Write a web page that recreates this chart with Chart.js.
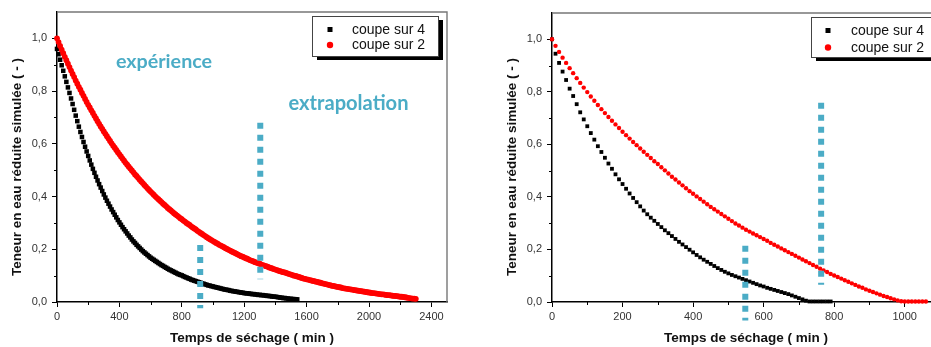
<!DOCTYPE html>
<html lang="fr">
<head>
<meta charset="UTF-8">
<title>Teneur en eau réduite simulée</title>
<script src="https://cdn.jsdelivr.net/npm/chart.js"></script>
<style>
    html, body { margin: 0; padding: 0; background: #fff; overflow: hidden; width: 931px; height: 347px; }
    canvas { position: absolute; top: 0; }
    #left { left: 0; }
    #right { left: 465px; }
</style>
</head>
<body>
<canvas id="left" width="470" height="347"></canvas>
<canvas id="right" width="500" height="347"></canvas>
<script>
// ---- data ----
const SERIES_NAMES = ['coupe sur 4', 'coupe sur 2'];

// left panel: one point every 10 min
const LEFT_STEP = 10;
const LEFT_COUPE4 = [
    0.960, 0.940, 0.919, 0.898, 0.877, 0.856, 0.835, 0.814, 0.793, 0.772,
    0.751, 0.729, 0.707, 0.686, 0.665, 0.645, 0.626, 0.607, 0.589, 0.571,
    0.554, 0.537, 0.521, 0.505, 0.490, 0.475, 0.461, 0.447, 0.434, 0.421,
    0.408, 0.396, 0.384, 0.373, 0.362, 0.351, 0.341, 0.331, 0.321, 0.311,
    0.302, 0.293, 0.284, 0.276, 0.268, 0.260, 0.252, 0.245, 0.237, 0.230,
    0.224, 0.217, 0.211, 0.205, 0.199, 0.193, 0.188, 0.183, 0.178, 0.173,
    0.168, 0.164, 0.160, 0.156, 0.152, 0.148, 0.144, 0.140, 0.137, 0.133,
    0.130, 0.126, 0.123, 0.120, 0.117, 0.114, 0.111, 0.108, 0.105, 0.103,
    0.101, 0.098, 0.095, 0.093, 0.090, 0.088, 0.085, 0.083, 0.081, 0.079,
    0.077, 0.075, 0.073, 0.071, 0.069, 0.067, 0.065, 0.063, 0.062, 0.060,
    0.059, 0.057, 0.056, 0.054, 0.053, 0.051, 0.050, 0.048, 0.047, 0.046,
    0.045, 0.043, 0.042, 0.041, 0.040, 0.039, 0.038, 0.037, 0.036, 0.035,
    0.034, 0.033, 0.033, 0.032, 0.031, 0.030, 0.030, 0.029, 0.028, 0.027,
    0.027, 0.026, 0.026, 0.025, 0.024, 0.023, 0.023, 0.022, 0.021, 0.020,
    0.020, 0.019, 0.018, 0.017, 0.016, 0.015, 0.015, 0.014, 0.013, 0.012,
    0.012, 0.011, 0.011, 0.010, 0.010
];
const LEFT_COUPE2 = [
    1.000, 0.986, 0.971, 0.957, 0.944, 0.930, 0.917, 0.904, 0.891, 0.878,
    0.865, 0.853, 0.840, 0.828, 0.816, 0.805, 0.793, 0.782, 0.770, 0.759,
    0.748, 0.738, 0.727, 0.717, 0.706, 0.696, 0.686, 0.676, 0.666, 0.657,
    0.647, 0.638, 0.629, 0.620, 0.611, 0.602, 0.593, 0.585, 0.577, 0.568,
    0.560, 0.552, 0.544, 0.536, 0.528, 0.521, 0.513, 0.506, 0.499, 0.492,
    0.484, 0.478, 0.471, 0.464, 0.457, 0.451, 0.444, 0.438, 0.431, 0.425,
    0.419, 0.413, 0.407, 0.401, 0.395, 0.390, 0.384, 0.379, 0.373, 0.368,
    0.363, 0.357, 0.352, 0.347, 0.342, 0.337, 0.332, 0.328, 0.323, 0.318,
    0.314, 0.309, 0.305, 0.300, 0.296, 0.292, 0.287, 0.283, 0.279, 0.275,
    0.270, 0.266, 0.262, 0.258, 0.254, 0.250, 0.246, 0.242, 0.238, 0.235,
    0.231, 0.228, 0.224, 0.221, 0.217, 0.214, 0.211, 0.208, 0.204, 0.201,
    0.198, 0.195, 0.192, 0.189, 0.186, 0.183, 0.180, 0.177, 0.174, 0.172,
    0.169, 0.166, 0.164, 0.161, 0.158, 0.156, 0.154, 0.151, 0.149, 0.147,
    0.145, 0.142, 0.140, 0.138, 0.136, 0.134, 0.131, 0.129, 0.127, 0.125,
    0.123, 0.121, 0.119, 0.117, 0.115, 0.113, 0.112, 0.110, 0.108, 0.106,
    0.104, 0.102, 0.100, 0.099, 0.097, 0.095, 0.093, 0.091, 0.089, 0.088,
    0.086, 0.085, 0.083, 0.082, 0.080, 0.079, 0.077, 0.076, 0.074, 0.073,
    0.071, 0.070, 0.068, 0.067, 0.065, 0.064, 0.062, 0.061, 0.060, 0.058,
    0.057, 0.056, 0.055, 0.053, 0.052, 0.051, 0.050, 0.049, 0.048, 0.047,
    0.046, 0.045, 0.044, 0.043, 0.042, 0.041, 0.040, 0.039, 0.038, 0.037,
    0.036, 0.035, 0.034, 0.034, 0.033, 0.032, 0.031, 0.030, 0.029, 0.029,
    0.028, 0.027, 0.026, 0.026, 0.025, 0.024, 0.023, 0.023, 0.022, 0.021,
    0.020, 0.020, 0.019, 0.018, 0.017, 0.016, 0.015, 0.014, 0.013, 0.013,
    0.012
];
const LEFT_X_TICKS = [0, 400, 800, 1200, 1600, 2000, 2400];
const LEFT_X_MINOR = [200, 600, 1000, 1400, 1800, 2200];
const LEFT_CUT_X = [918, 1303];
const LEFT_CUT_TOP = [0.216, 0.680];
const LEFT_CUT_BOTTOM = [-0.024, 0.086];

// right panel: one point every 10 min
const RIGHT_STEP = 10;
const RIGHT_COUPE4 = [
    1.000, 0.945, 0.910, 0.877, 0.845, 0.812, 0.784, 0.753, 0.722, 0.695,
    0.669, 0.643, 0.618, 0.593, 0.571, 0.549, 0.527, 0.507, 0.486, 0.467,
    0.449, 0.431, 0.413, 0.396, 0.380, 0.364, 0.348, 0.334, 0.321, 0.309,
    0.297, 0.285, 0.273, 0.262, 0.251, 0.240, 0.229, 0.219, 0.209, 0.199,
    0.189, 0.179, 0.170, 0.161, 0.153, 0.145, 0.137, 0.129, 0.122, 0.115,
    0.109, 0.103, 0.098, 0.093, 0.088, 0.083, 0.078, 0.073, 0.068, 0.063,
    0.059, 0.054, 0.050, 0.046, 0.042, 0.038, 0.034, 0.030, 0.025, 0.020,
    0.015, 0.010, 0.005, 0.002, 0.002, 0.002, 0.002, 0.002, 0.002, 0.002
];
const RIGHT_COUPE2 = [
    1.000, 0.975, 0.952, 0.930, 0.910, 0.890, 0.871, 0.852, 0.834, 0.816,
    0.799, 0.782, 0.766, 0.750, 0.734, 0.719, 0.704, 0.690, 0.676, 0.662,
    0.648, 0.635, 0.622, 0.609, 0.597, 0.584, 0.572, 0.560, 0.548, 0.536,
    0.525, 0.513, 0.501, 0.489, 0.477, 0.466, 0.455, 0.444, 0.433, 0.422,
    0.412, 0.402, 0.392, 0.382, 0.372, 0.362, 0.353, 0.344, 0.335, 0.326,
    0.317, 0.308, 0.299, 0.291, 0.283, 0.275, 0.268, 0.261, 0.254, 0.247,
    0.240, 0.233, 0.225, 0.218, 0.211, 0.204, 0.197, 0.190, 0.183, 0.176,
    0.169, 0.162, 0.155, 0.148, 0.141, 0.134, 0.127, 0.120, 0.114, 0.107,
    0.101, 0.095, 0.089, 0.083, 0.077, 0.071, 0.065, 0.059, 0.054, 0.048,
    0.043, 0.038, 0.033, 0.028, 0.023, 0.019, 0.014, 0.010, 0.006, 0.003,
    0.002, 0.002, 0.002, 0.002, 0.002, 0.002, 0.002
];
const RIGHT_X_TICKS = [0, 200, 400, 600, 800, 1000];
const RIGHT_X_MINOR = [100, 300, 500, 700, 900];
const RIGHT_CUT_X = [548, 763];
const RIGHT_CUT_TOP = [0.214, 0.758];
const RIGHT_CUT_BOTTOM = [-0.070, 0.066];

const Y_TICKS = [0, 0.2, 0.4, 0.6, 0.8, 1.0];
const Y_MINOR = [0.1, 0.3, 0.5, 0.7, 0.9];

const X_TITLE = 'Temps de séchage ( min )';
const Y_TITLE = 'Teneur en eau réduite simulée ( - )';

// ---- styling ----
const BLUE = '#4bacc6';
const RED = '#ff0000';
const BLACK = '#000000';
const H = 347;

Chart.defaults.font.family = '"Liberation Sans", Arial, sans-serif';
Chart.defaults.color = '#333';

function toPoints(values, step) {
    return values.map((v, i) => ({ x: i * step, y: v }));
}

// grey top/right frame + short minor ticks
const framePlugin = {
    id: 'frame',
    beforeDatasetsDraw(chart) {
        const { ctx, chartArea: a, scales } = chart;
        const o = chart.options.plugins.frame;
        ctx.save();
        ctx.strokeStyle = '#777';
        ctx.lineWidth = 1.4;
        ctx.beginPath();
        ctx.moveTo(a.left, a.top);
        ctx.lineTo(a.right, a.top);
        ctx.lineTo(a.right, a.bottom);
        ctx.stroke();
        ctx.strokeStyle = '#000';
        ctx.lineWidth = 1;
        ctx.beginPath();
        o.xMinor.forEach(v => {
            const px = Math.round(scales.x.getPixelForValue(v)) + 0.5;
            ctx.moveTo(px, a.bottom);
            ctx.lineTo(px, a.bottom + 3);
        });
        o.yMinor.forEach(v => {
            const py = Math.round(scales.y.getPixelForValue(v)) + 0.5;
            ctx.moveTo(a.left, py);
            ctx.lineTo(a.left - 3, py);
        });
        ctx.stroke();
        ctx.restore();
    }
};

// legend box, axis titles and the blue notes
const decorPlugin = {
    id: 'decor',
    afterDraw(chart) {
        const { ctx, chartArea: a } = chart;
        const o = chart.options.plugins.decor;
        ctx.save();

        // legend with drop shadow
        const L = o.legend;
        ctx.fillStyle = '#000';
        ctx.fillRect(L.x + 5, L.y + 4, L.w, L.h);
        ctx.fillStyle = '#fff';
        ctx.fillRect(L.x, L.y, L.w, L.h);
        ctx.strokeStyle = '#444';
        ctx.lineWidth = 1;
        ctx.strokeRect(L.x + 0.5, L.y + 0.5, L.w, L.h);
        ctx.font = '14px "Liberation Sans", Arial, sans-serif';
        ctx.textBaseline = 'middle';
        ctx.textAlign = 'left';
        const items = chart.data.datasets.filter(d => d.label);
        items.sort((p, q) => SERIES_NAMES.indexOf(p.label) - SERIES_NAMES.indexOf(q.label));
        items.forEach((d, i) => {
            const cy = L.y + L.rows[i];
            ctx.fillStyle = d.backgroundColor;
            if (d.pointStyle === 'rect') {
                ctx.fillRect(L.x + L.mark - 2.5, cy - 2.5, 5, 5);
            } else {
                ctx.beginPath();
                ctx.arc(L.x + L.mark, cy, 3.2, 0, Math.PI * 2);
                ctx.fill();
            }
            ctx.fillStyle = '#111';
            ctx.fillText(d.label, L.x + L.text, cy + 0.5);
        });

        // axis titles
        ctx.fillStyle = '#111';
        ctx.font = 'bold 13.5px "Liberation Sans", Arial, sans-serif';
        ctx.textAlign = 'center';
        ctx.fillText(X_TITLE, (a.left + a.right) / 2, o.xTitleY);
        ctx.translate(o.yTitleX, o.yTitleY);
        ctx.rotate(-Math.PI / 2);
        ctx.fillText(Y_TITLE, 0, 0);
        ctx.setTransform(1, 0, 0, 1, 0, 0);

        // blue notes, sized to their width in the picture
        (o.notes || []).forEach(n => {
            ctx.font = 'bold 20px Lato, "Open Sans", sans-serif';
            const size = 20 * n.w / ctx.measureText(n.text).width;
            ctx.font = 'bold ' + size.toFixed(1) + 'px Lato, "Open Sans", sans-serif';
            ctx.fillStyle = BLUE;
            ctx.textAlign = 'center';
            ctx.textBaseline = 'middle';
            ctx.fillText(n.text, n.cx, n.cy);
        });
        ctx.restore();
    }
};

function cutDatasets(xs, tops, bottoms) {
    return xs.map((x, i) => ({
        label: '',
        data: [{ x: x, y: tops[i] }, { x: x, y: bottoms[i] }],
        showLine: true,
        borderColor: BLUE,
        borderWidth: 6,
        borderDash: [6, 6],
        borderCapStyle: 'butt',
        pointRadius: 0,
        clip: false,
        order: 0
    }));
}

function makeChart(id, p) {
    const canvas = document.getElementById(id);
    const W = canvas.width;
    return new Chart(canvas.getContext('2d'), {
        type: 'scatter',
        data: {
            datasets: [
                ...cutDatasets(p.cutX, p.cutTop, p.cutBottom),
                {
                    label: SERIES_NAMES[1],
                    data: toPoints(p.coupe2, p.step),
                    pointStyle: 'circle',
                    pointRadius: p.redR,
                    backgroundColor: RED,
                    borderColor: RED,
                    pointBorderWidth: 0,
                    clip: false,
                    order: 1
                },
                {
                    label: SERIES_NAMES[0],
                    data: toPoints(p.coupe4, p.step),
                    pointStyle: 'rect',
                    pointRadius: p.blackR,
                    backgroundColor: BLACK,
                    borderColor: BLACK,
                    pointBorderWidth: 0,
                    clip: false,
                    order: 2
                }
            ]
        },
        options: {
            responsive: false,
            animation: false,
            events: [],
            layout: { padding: { left: 0, top: p.area.top, right: W - p.area.right, bottom: 0 } },
            scales: {
                x: {
                    type: 'linear',
                    min: 0,
                    max: p.xMax,
                    afterFit: s => { s.height = H - p.area.bottom; },
                    afterBuildTicks: s => { s.ticks = p.xTicks.map(v => ({ value: v })); },
                    border: { color: '#000', width: 1.5 },
                    grid: { drawOnChartArea: false, tickLength: 5, tickColor: '#000', tickWidth: 1 },
                    ticks: { font: { size: 11 }, padding: 3, maxRotation: 0, autoSkip: false,
                        callback: v => String(v) }
                },
                y: {
                    type: 'linear',
                    min: 0,
                    max: 1.1,
                    afterFit: s => { s.width = p.area.left; },
                    afterBuildTicks: s => { s.ticks = Y_TICKS.map(v => ({ value: v })); },
                    border: { color: '#000', width: 1.5 },
                    grid: { drawOnChartArea: false, tickLength: 5, tickColor: '#000', tickWidth: 1 },
                    ticks: { font: { size: 11 }, padding: 5,
                        callback: v => v.toFixed(1).replace('.', ',') }
                }
            },
            plugins: {
                legend: { display: false },
                tooltip: { enabled: false },
                frame: { xMinor: p.xMinor, yMinor: Y_MINOR },
                decor: {
                    legend: p.legend,
                    xTitleY: 338,
                    yTitleX: p.yTitleX,
                    yTitleY: 167,
                    notes: p.notes
                }
            }
        },
        plugins: [framePlugin, decorPlugin]
    });
}

makeChart('left', {
    step: LEFT_STEP, coupe4: LEFT_COUPE4, coupe2: LEFT_COUPE2,
    xMax: 2500, xTicks: LEFT_X_TICKS, xMinor: LEFT_X_MINOR,
    cutX: LEFT_CUT_X, cutTop: LEFT_CUT_TOP, cutBottom: LEFT_CUT_BOTTOM,
    area: { left: 57, right: 447, top: 12, bottom: 302 },
    redR: 2.9, blackR: 3.2,
    yTitleX: 17,
    legend: { x: 312, y: 16, w: 126, h: 40, mark: 18, text: 40, rows: [13.5, 29] },
    notes: [
        { text: 'expérience', cx: 164, cy: 62, w: 96 },
        { text: 'extrapolation', cx: 348.5, cy: 104, w: 120 }
    ]
});

makeChart('right', {
    step: RIGHT_STEP, coupe4: RIGHT_COUPE4, coupe2: RIGHT_COUPE2,
    xMax: 1100, xTicks: RIGHT_X_TICKS, xMinor: RIGHT_X_MINOR,
    cutX: RIGHT_CUT_X, cutTop: RIGHT_CUT_TOP, cutBottom: RIGHT_CUT_BOTTOM,
    area: { left: 87, right: 475, top: 13, bottom: 302 },
    redR: 2.2, blackR: 2.7,
    yTitleX: 47,
    legend: { x: 346, y: 17, w: 126, h: 40, mark: 17, text: 40, rows: [13.5, 30.5] },
    notes: []
});
</script>
</body>
</html>
